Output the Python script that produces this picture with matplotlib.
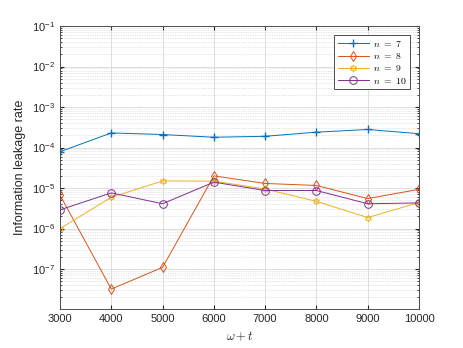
import matplotlib
matplotlib.use('Agg')
import matplotlib.pyplot as plt
from matplotlib.ticker import LogLocator, NullFormatter

plt.rcParams['font.family'] = ['Liberation Sans', 'DejaVu Sans']
plt.rcParams['mathtext.fontset'] = 'cm'

x = [3000, 4000, 5000, 6000, 7000, 8000, 9000, 10000]
n7 = [7.9e-5, 2.3e-4, 2.1e-4, 1.8e-4, 1.9e-4, 2.4e-4, 2.8e-4, 2.2e-4]
n8 = [6.7e-6, 3.2e-8, 1.1e-7, 2.0e-5, 1.3e-5, 1.16e-5, 5.5e-6, 9.3e-6]
n9 = [1.0e-6, 5.9e-6, 1.5e-5, 1.48e-5, 9.5e-6, 4.7e-6, 1.87e-6, 4.4e-6]
n10 = [2.9e-6, 7.6e-6, 4.1e-6, 1.4e-5, 8.7e-6, 8.7e-6, 4.1e-6, 4.3e-6]

labels = ['$n\\ =\\ 7$', '$n\\ =\\ 8$', '$n\\ =\\ 9$', '$n\\ =\\ 10$']
colors = ['#0072BD', '#D95319', '#EDB120', '#7E2F8E']

fig = plt.figure(figsize=(4.63, 3.48), dpi=100)
ax = fig.add_axes([0.1296, 0.112, 0.7754, 0.813])

ax.semilogy(x, n7, '-', marker='+', color=colors[0], lw=0.7, ms=5.5, label=labels[0])
ax.semilogy(x, n8, '-', marker='d', color=colors[1], lw=0.7, ms=5, mew=0.7, mfc='none', label=labels[1])
ax.semilogy(x, n9, '-', marker=(6, 1, 0), color=colors[2], lw=0.7, ms=5, mew=0.7, mfc='none', label=labels[2])
ax.semilogy(x, n10, '-', marker='o', color=colors[3], lw=0.7, ms=5.5, mew=0.7, mfc='none', label=labels[3])

ax.set_xlim(3000, 10000)
ax.set_ylim(1.03e-8, 1e-1)
ax.set_xticks(x)
ax.set_yticks([1e-7, 1e-6, 1e-5, 1e-4, 1e-3, 1e-2, 1e-1])
ax.yaxis.set_minor_locator(LogLocator(base=10, subs=range(2, 10), numticks=20))
ax.yaxis.set_minor_formatter(NullFormatter())

ax.grid(True, which='major', color='#d9d9d9', lw=0.6)
ax.grid(True, which='minor', axis='y', color='#cfcfcf', lw=0.5, ls=(0, (1, 1.5)))
ax.set_axisbelow(True)

ax.tick_params(which='both', direction='in', top=True, right=True, colors='#262626', labelsize=8)
ax.tick_params(which='major', length=3)
ax.tick_params(which='minor', length=1.5)
for s in ax.spines.values():
    s.set_color('#4d4d4d')
    s.set_linewidth(0.7)

ax.set_xlabel(r'$\omega+t$', fontsize=9, color='#262626')
ax.set_ylabel('Information leakage rate', fontsize=9, color='#262626')

leg = ax.legend(loc='upper right', fontsize=7, fancybox=False, edgecolor='#4d4d4d',
                framealpha=1, handlelength=3.2, borderpad=0.35, labelspacing=0.25,
                handletextpad=0.4, borderaxespad=0, bbox_to_anchor=(0.975, 0.968))
leg.get_frame().set_linewidth(0.7)

fig.savefig('out.png', dpi=100)
